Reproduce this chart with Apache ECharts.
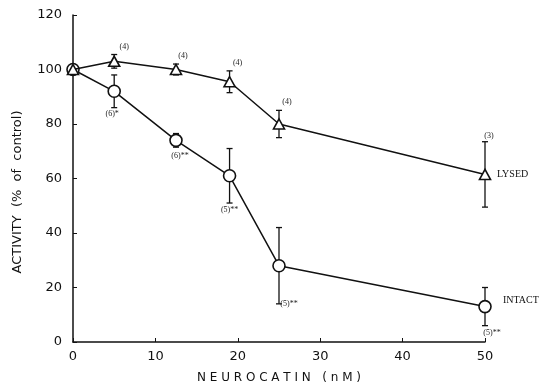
<!DOCTYPE html>
<html>
<head>
<meta charset="utf-8">
<script src="https://cdn.jsdelivr.net/npm/echarts@6/dist/echarts.min.js"></script>
<style>
  html, body { margin: 0; padding: 0; background: #fff; }
  #chart { width: 547px; height: 389px; }
</style>
</head>
<body>
<div id="chart"></div>
<script>
// neurocatin dose (nM)
var doses = [0, 5, 12.5, 19, 25, 50];
// lysed cells, % of control
var lysedMean = [100, 103, 100, 95.5, 80, 61.5];
var lysedErr = [0, 2.5, 2, 4, 5, 12];
var lysedN = ["", "(4)", "(4)", "(4)", "(4)", "(3)"];
// intact cells, % of control
var intactMean = [100, 92, 74, 61, 28, 13];
var intactErr = [0, 6, 2.5, 10, 14, 7];
var intactN = ["", "(6)*", "(6)**", "(5)**", "(5)**", "(5)**"];
var xTicks = [0, 10, 20, 30, 40, 50];
var yTicks = [0, 20, 40, 60, 80, 100, 120];

var serif = "Liberation Serif";
var sans = "DejaVu Sans";

function pairs(ys) {
  return doses.map(function (x, i) { return [x, ys[i]]; });
}

function errData(ys, errs, labels) {
  return doses.map(function (x, i) { return [x, ys[i] - errs[i], ys[i] + errs[i], labels[i]]; });
}

// offsets of the n labels, in px, relative to the end of the error bar
var lysedLabelOff = [[0, 0], [10, -8], [7, -8], [8, -8], [8, -8], [4, -6]];
var intactLabelOff = [[0, 0], [-2, 6], [4, 9], [0, 7], [10, 0], [7, 7]];

function errorBars(labelAbove, offs) {
  return function (params, api) {
    var x = api.value(0);
    var lo = api.coord([x, api.value(1)]);
    var hi = api.coord([x, api.value(2)]);
    var label = api.value(3);
    var cap = 3;
    var st = { stroke: "#111", lineWidth: 1.3 };
    var kids = [];
    if (hi[1] < lo[1] - 1) {
      kids.push({ type: "line", shape: { x1: lo[0], y1: lo[1], x2: hi[0], y2: hi[1] }, style: st });
      kids.push({ type: "line", shape: { x1: lo[0] - cap, y1: lo[1], x2: lo[0] + cap, y2: lo[1] }, style: st });
      kids.push({ type: "line", shape: { x1: hi[0] - cap, y1: hi[1], x2: hi[0] + cap, y2: hi[1] }, style: st });
    }
    if (label) {
      var o = offs[params.dataIndex];
      var p = labelAbove ? hi : lo;
      kids.push({
        type: "text",
        style: {
          text: label, x: p[0] + o[0], y: p[1] + o[1],
          align: "center", verticalAlign: "middle",
          font: "8px " + serif, fill: "#222"
        }
      });
    }
    return { type: "group", children: kids };
  };
}

var chart = echarts.init(document.getElementById("chart"));
var option = {
  animation: false,
  backgroundColor: "#fff",
  grid: { left: 73, right: 62, top: 15, bottom: 46 },
  xAxis: {
    type: "value",
    min: 0, max: 50, interval: 10,
    axisLine: { lineStyle: { color: "#111", width: 1.5 } },
    axisTick: { inside: true, length: 4, lineStyle: { color: "#111" } },
    axisLabel: {
      margin: 8, color: "#111", fontFamily: sans, fontSize: 13,
      formatter: function (v) { return xTicks.indexOf(v) >= 0 ? String(v) : ""; }
    },
    splitLine: { show: false },
    name: "N E U R O C A T I N   ( n M )",
    nameLocation: "middle", nameGap: 30,
    nameTextStyle: { color: "#111", fontFamily: sans, fontSize: 12 }
  },
  yAxis: {
    type: "value",
    min: 0, max: 120, interval: 20,
    axisLine: { show: true, lineStyle: { color: "#111", width: 1.5 } },
    axisTick: { show: true, inside: true, length: 4, lineStyle: { color: "#111" } },
    axisLabel: {
      margin: 11, color: "#111", fontFamily: sans, fontSize: 13,
      formatter: function (v) { return yTicks.indexOf(v) >= 0 ? String(v) : ""; }
    },
    splitLine: { show: false }
  },
  graphic: [{
    type: "text",
    x: 18, y: 192, rotation: Math.PI / 2,
    style: {
      text: "ACTIVITY  (%  of  control)",
      font: "13px " + sans, fill: "#111",
      align: "center", verticalAlign: "middle"
    }
  }],
  series: [
    {
      name: "LYSED",
      type: "line",
      data: pairs(lysedMean),
      symbol: "triangle", symbolSize: [11, 10],
      itemStyle: { color: "#fff", borderColor: "#111", borderWidth: 1.6 },
      lineStyle: { color: "#111", width: 1.5 },
      endLabel: {
        show: true, formatter: "LYSED", offset: [4, 0],
        fontFamily: serif, fontSize: 10, color: "#111"
      },
      z: 3
    },
    {
      name: "INTACT",
      type: "line",
      data: pairs(intactMean),
      symbol: "circle", symbolSize: 12,
      itemStyle: { color: "#fff", borderColor: "#111", borderWidth: 1.6 },
      lineStyle: { color: "#111", width: 1.5 },
      endLabel: {
        show: true, formatter: "INTACT", offset: [10, -6],
        fontFamily: serif, fontSize: 10, color: "#111"
      },
      z: 2
    },
    {
      type: "custom",
      renderItem: errorBars(true, lysedLabelOff),
      data: errData(lysedMean, lysedErr, lysedN),
      encode: { x: 0, y: [1, 2] },
      z: 1
    },
    {
      type: "custom",
      renderItem: errorBars(false, intactLabelOff),
      data: errData(intactMean, intactErr, intactN),
      encode: { x: 0, y: [1, 2] },
      z: 1
    }
  ]
};
chart.setOption(option);
</script>
</body>
</html>
